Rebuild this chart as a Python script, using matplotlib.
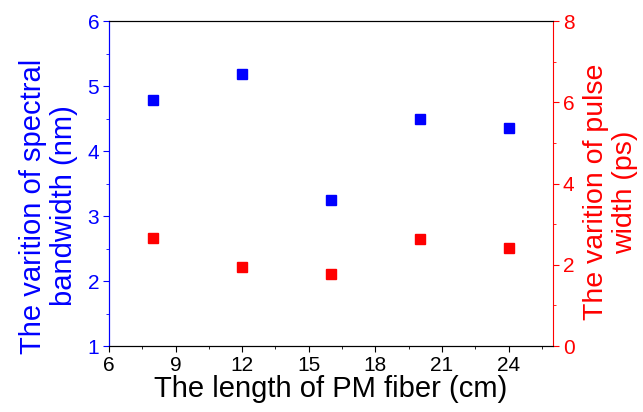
import matplotlib.pyplot as plt
from matplotlib.ticker import MultipleLocator

plt.rcParams['font.family'] = ['Liberation Sans', 'DejaVu Sans']

length_cm = [8, 12, 16, 20, 24]
bandwidth_nm = [4.79, 5.19, 3.25, 4.49, 4.35]
pulse_ps = [2.66, 1.94, 1.77, 2.64, 2.41]

fig, ax = plt.subplots(figsize=(6.43, 4.12), dpi=100)
fig.subplots_adjust(left=0.1695, right=0.860, bottom=0.160, top=0.949)
ax2 = ax.twinx()

ax.plot(length_cm, bandwidth_nm, 's', color='#0000ff', ms=6.5)
ax2.plot(length_cm, pulse_ps, 's', color='#ff0000', ms=6.5)

ax.set_xlim(6, 26)
ax.set_ylim(1, 6)
ax2.set_ylim(0, 8)
ax.xaxis.set_major_locator(MultipleLocator(3))
ax.xaxis.set_minor_locator(MultipleLocator(1.5))
ax.yaxis.set_major_locator(MultipleLocator(1))
ax.yaxis.set_minor_locator(MultipleLocator(0.5))
ax2.yaxis.set_major_locator(MultipleLocator(2))
ax2.yaxis.set_minor_locator(MultipleLocator(1))

ax.set_xlabel('The length of PM fiber (cm)', fontsize=21, labelpad=0)
ax.set_ylabel('The varition of spectral\nbandwidth (nm)', fontsize=21,
              color='#0000ff', linespacing=1.15)
ax2.set_ylabel('The varition of pulse\nwidth (ps)', fontsize=20.5,
               color='#ff0000', linespacing=1.15)
ax.yaxis.set_label_coords(-0.07, 0.431)
ax2.yaxis.set_label_coords(1.067, 0.474)

ax.tick_params(axis='x', which='both', direction='out', labelsize=15, pad=3)
ax.tick_params(axis='x', which='major', length=4)
ax.tick_params(axis='x', which='minor', length=2.5)
ax.tick_params(axis='y', which='both', colors='#0000ff', labelsize=15, pad=3)
ax.tick_params(axis='y', which='major', length=4)
ax.tick_params(axis='y', which='minor', length=2.5)
ax2.tick_params(axis='y', which='both', colors='#ff0000', labelsize=15, pad=3)
ax2.tick_params(axis='y', which='major', length=4)
ax2.tick_params(axis='y', which='minor', length=2.5)

ax2.spines['left'].set_color('#0000ff')
ax2.spines['right'].set_color('#ff0000')
ax.spines['left'].set_color('#0000ff')
ax.spines['right'].set_visible(False)

fig.savefig('out.png', dpi=100)
